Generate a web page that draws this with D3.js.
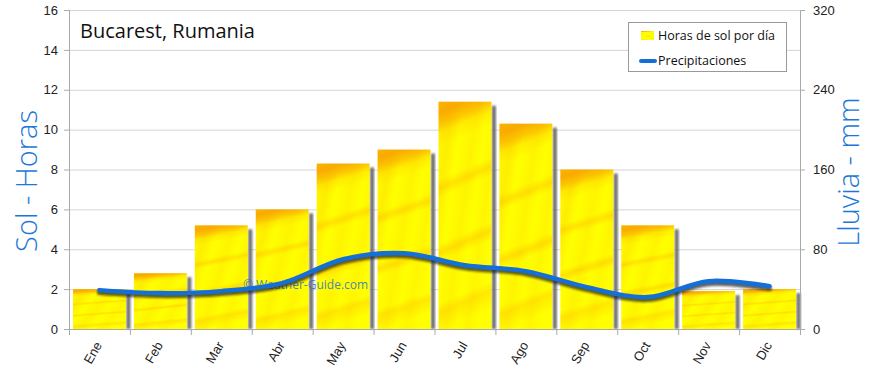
<!DOCTYPE html>
<html>
<head>
<meta charset="utf-8">
<script src="https://cdn.jsdelivr.net/npm/d3@7"></script>
<style>
  body { margin: 0; background: #fff; }
  svg { font-family: "Open Sans", sans-serif; }
  .axis text { font-size: 13px; fill: #222; }
  .axis path, .axis line { stroke: #aaa; }
</style>
</head>
<body>
<div id="chart"></div>
<script>
// data
var months = ["Ene", "Feb", "Mar", "Abr", "May", "Jun", "Jul", "Ago", "Sep", "Oct", "Nov", "Dic"];
var sunHours = [2.0, 2.8, 5.2, 6.0, 8.3, 9.0, 11.4, 10.3, 8.0, 5.2, 1.9, 2.0];
var rainMm = [39, 36, 38, 46, 70, 76, 64, 58, 42, 32, 48, 43];
var sunTicks = [0, 2, 4, 6, 8, 10, 12, 14, 16];
var rainTicks = [0, 80, 160, 240, 320];

(function() {
  var margin = {top: 10, right: 70, bottom: 39, left: 69},
      width = 870 - margin.left - margin.right,
      height = 368 - margin.top - margin.bottom;

  var root = d3.select("#chart").append("svg")
    .attr("width", 870)
    .attr("height", 368);

  var defs = root.append("defs");

  // bar fill: bright yellow with an orange band near the top
  var g1 = defs.append("linearGradient").attr("id", "sunGrad")
    .attr("x1", 0).attr("y1", 0).attr("x2", 0.1).attr("y2", 1);
  [[0, "#fbb400"], [0.05, "#f9ac00"], [0.1, "#fcc800"], [0.14, "#ffee00"],
   [0.2, "#ffff00"], [0.34, "#ffff00"], [0.38, "#ffe400"], [0.42, "#ffff00"],
   [0.62, "#ffff00"], [0.66, "#ffe200"], [0.7, "#ffff00"], [0.88, "#ffff00"],
   [0.92, "#ffe800"], [1, "#ffff00"]]
    .forEach(function(s) { g1.append("stop").attr("offset", s[0]).attr("stop-color", s[1]); });

  var g2 = defs.append("linearGradient").attr("id", "streak")
    .attr("x1", 0).attr("y1", 0).attr("x2", 1).attr("y2", 0.6);
  [[0, 0], [0.2, 0.18], [0.35, 0], [0.55, 0.12], [0.7, 0], [0.85, 0.1], [1, 0]]
    .forEach(function(s) {
      g2.append("stop").attr("offset", s[0]).attr("stop-color", "#f5a000").attr("stop-opacity", s[1]);
    });

  var blur = defs.append("filter").attr("id", "blur")
    .attr("x", "-20%").attr("y", "-20%").attr("width", "140%").attr("height", "140%");
  blur.append("feGaussianBlur").attr("stdDeviation", 1.1);

  var svg = root.append("g")
    .attr("transform", "translate(" + margin.left + "," + margin.top + ")");

  // scales
  var xBand = d3.scaleBand().domain(months).range([0, width]).padding(0);
  var ySun = d3.scaleLinear().domain([0, 16]).range([height, 0]);
  var yRain = d3.scaleLinear().domain([0, 320]).range([height, 0]);

  // grid
  svg.append("g")
    .selectAll("line")
    .data(sunTicks.slice(1))
    .enter().append("line")
    .attr("x1", 0).attr("x2", width)
    .attr("y1", function(d) { return ySun(d) + 0.5; })
    .attr("y2", function(d) { return ySun(d) + 0.5; })
    .attr("stroke", "#d4d4d4");

  // bars
  var bw = xBand.bandwidth();
  var bars = svg.append("g").selectAll("g")
    .data(months)
    .enter().append("g");

  bars.append("rect")
    .attr("x", function(d) { return xBand(d) + bw - 3.5; })
    .attr("y", function(d, i) { return ySun(sunHours[i]) + 4; })
    .attr("width", 4)
    .attr("height", function(d, i) { return height - ySun(sunHours[i]) - 4; })
    .attr("fill", "#6e6e6e")
    .attr("filter", "url(#blur)");

  bars.append("rect")
    .attr("x", function(d) { return xBand(d) + 4; })
    .attr("y", function(d, i) { return ySun(sunHours[i]); })
    .attr("width", bw - 8)
    .attr("height", function(d, i) { return height - ySun(sunHours[i]); })
    .attr("fill", "url(#sunGrad)");

  bars.append("rect")
    .attr("x", function(d) { return xBand(d) + 4; })
    .attr("y", function(d, i) { return ySun(sunHours[i]); })
    .attr("width", bw - 8)
    .attr("height", function(d, i) { return height - ySun(sunHours[i]); })
    .attr("fill", "url(#streak)");

  // watermark
  svg.append("text")
    .attr("x", 174).attr("y", height - 40)
    .attr("fill", "#2a72d0")
    .attr("fill-opacity", 0.85)
    .style("font-size", "12px")
    .text("© Weather-Guide.com");

  // rain line
  var line = d3.line()
    .x(function(d, i) { return xBand(months[i]) + bw / 2; })
    .y(function(d) { return yRain(d); })
    .curve(d3.curveCatmullRom.alpha(0.5));

  svg.append("path")
    .datum(rainMm)
    .attr("d", line)
    .attr("transform", "translate(0,2.5)")
    .attr("fill", "none")
    .attr("stroke", "#1a1a1a")
    .attr("stroke-opacity", 0.7)
    .attr("stroke-width", 5)
    .attr("stroke-linecap", "round")
    .attr("filter", "url(#blur)");

  svg.append("path")
    .datum(rainMm)
    .attr("d", line)
    .attr("fill", "none")
    .attr("stroke", "#1470d8")
    .attr("stroke-width", 4.5)
    .attr("stroke-linecap", "round");

  // axes
  var yAxisL = d3.axisLeft(ySun).tickValues(sunTicks).tickSize(5).tickPadding(6);
  svg.append("g").attr("class", "axis").call(yAxisL)
    .call(function(g) { g.select(".domain").attr("d", "M0.5," + height + "V0"); });

  var yAxisR = d3.axisRight(yRain).tickValues(rainTicks).tickSize(5).tickPadding(8);
  svg.append("g").attr("class", "axis")
    .attr("transform", "translate(" + width + ",0)")
    .call(yAxisR)
    .call(function(g) { g.select(".domain").attr("d", "M0.5," + height + "V0"); });

  var xAxis = d3.axisBottom(xBand).tickSize(0).tickPadding(0);
  var xg = svg.append("g").attr("class", "axis")
    .attr("transform", "translate(0," + height + ")")
    .call(xAxis);
  xg.select(".domain").attr("d", "M0,0.5H" + width);
  xg.selectAll("text")
    .attr("text-anchor", "end")
    .attr("dy", 0)
    .attr("transform", "translate(3,16) rotate(-60)");

  // month boundary ticks
  xg.append("g").selectAll("line")
    .data(months.concat(["end"]))
    .enter().append("line")
    .attr("x1", function(d, i) { return i * bw + 0.5; })
    .attr("x2", function(d, i) { return i * bw + 0.5; })
    .attr("y1", 0).attr("y2", 6)
    .attr("stroke", "#aaa");

  // titles
  root.append("text")
    .attr("x", 80).attr("y", 38)
    .attr("fill", "#111")
    .style("font-size", "20px")
    .text("Bucarest, Rumania");

  root.append("text")
    .attr("transform", "translate(37,181) rotate(-90)")
    .attr("text-anchor", "middle")
    .attr("fill", "#1b78d8")
    .style("font-size", "29px")
    .style("font-weight", 300)
    .text("Sol - Horas");

  root.append("text")
    .attr("transform", "translate(859,172) rotate(-90)")
    .attr("text-anchor", "middle")
    .attr("fill", "#1b78d8")
    .style("font-size", "29px")
    .style("font-weight", 300)
    .text("Lluvia - mm");

  // legend
  var lg = root.append("g").attr("transform", "translate(628,22)");
  lg.append("rect")
    .attr("x", 0.5).attr("y", 0.5)
    .attr("width", 158).attr("height", 49)
    .attr("fill", "#fff").attr("stroke", "#999");
  lg.append("rect")
    .attr("x", 13).attr("y", 9).attr("width", 13).attr("height", 9)
    .attr("fill", "url(#sunGrad)");
  lg.append("text")
    .attr("x", 30).attr("y", 18)
    .style("font-size", "12.5px").attr("fill", "#111")
    .text("Horas de sol por día");
  lg.append("line")
    .attr("x1", 13).attr("x2", 27).attr("y1", 39).attr("y2", 39)
    .attr("stroke", "#1470d8").attr("stroke-width", 4)
    .attr("stroke-linecap", "round");
  lg.append("text")
    .attr("x", 30).attr("y", 43)
    .style("font-size", "12.5px").attr("fill", "#111")
    .text("Precipitaciones");
})();
</script>
</body>
</html>
